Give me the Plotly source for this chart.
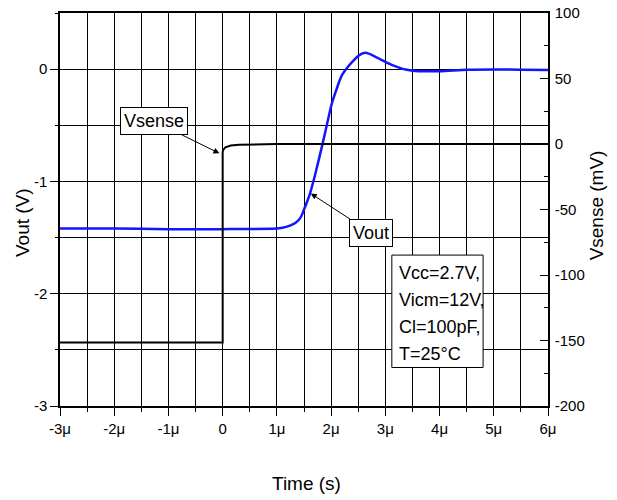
import plotly.graph_objects as go

# time axis in microseconds
t_vout = [-3.0, -2.0, -1.0, 0.0, 1.0, 1.1, 1.2, 1.3, 1.35, 1.4, 1.45, 1.5, 1.55,
          1.6, 1.7, 1.84, 1.92, 2.0, 2.05, 2.1, 2.15, 2.21, 2.3, 2.39, 2.52, 2.64,
          2.82, 3.0, 3.13, 3.37, 3.62, 4.0, 4.5, 5.0, 5.5, 6.0]
vout = [-1.42, -1.42, -1.425, -1.425, -1.42, -1.413, -1.40, -1.38, -1.365, -1.345,
        -1.31, -1.25, -1.19, -1.125, -0.95, -0.67, -0.5, -0.33, -0.25, -0.18,
        -0.11, -0.045, 0.015, 0.065, 0.125, 0.145, 0.11, 0.065, 0.036, -0.003,
        -0.018, -0.018, -0.005, -0.003, -0.005, -0.008]

t_vsense = [-3.0, -2.0, -1.0, 0.0, 0.0, 0.01, 0.05, 0.15, 0.3, 0.6, 1.0, 2.0, 3.0,
            4.0, 5.0, 6.0]
vsense = [-151.5, -151.5, -151.0, -151.5, -6.0, -4.5, -2.5, -1.2, -0.6, -0.3, 0.0,
          0.0, 0.0, 0.0, 0.0, 0.0]

x_ticks = [-3, -2, -1, 0, 1, 2, 3, 4, 5, 6]
x_labels = ["-3μ", "-2μ", "-1μ", "0", "1μ", "2μ", "3μ", "4μ", "5μ", "6μ"]
vout_ticks = [-3, -2, -1, 0]
vout_labels = ["-3", "-2", "-1", "0"]
vsense_ticks = [-200, -150, -100, -50, 0, 50, 100]
vsense_labels = ["-200", "-150", "-100", "-50", "0", "50", "100"]

conditions = ["Vcc=2.7V,", "Vicm=12V,", "Cl=100pF,", "T=25°C"]

FONT = "Liberation Sans, Arial, sans-serif"

fig = go.Figure()
fig.add_trace(go.Scatter(x=t_vout, y=vout, mode="lines", yaxis="y",
                         line=dict(color="#1414ff", width=2.5, shape="spline",
                                   smoothing=0.6)))
fig.add_trace(go.Scatter(x=t_vsense, y=vsense, mode="lines", yaxis="y2",
                         line=dict(color="black", width=2)))

fig.update_layout(
    width=617, height=500,
    margin=dict(l=60, r=69, t=13, b=94),
    plot_bgcolor="white", paper_bgcolor="white",
    showlegend=False,
    font=dict(family=FONT, size=15, color="black"),
    xaxis=dict(
        range=[-3, 6], tickmode="array", tickvals=x_ticks, ticktext=x_labels,
        ticks="outside", ticklen=8, tickcolor="black", automargin=False,
        showline=True, linecolor="black", linewidth=1.5, mirror=True,
        showgrid=True, gridcolor="black", gridwidth=1, zeroline=False,
        minor=dict(tick0=0, dtick=0.5, ticks="outside", ticklen=4,
                   tickcolor="black", showgrid=True, gridcolor="black",
                   gridwidth=1),
    ),
    yaxis=dict(
        range=[-3, 0.5], tickmode="array", tickvals=vout_ticks,
        ticktext=vout_labels, automargin=False,
        ticks="outside", ticklen=8, tickcolor="black",
        showline=True, linecolor="black", linewidth=1.5, mirror=True,
        showgrid=True, gridcolor="black", gridwidth=1, zeroline=False,
        minor=dict(tick0=0, dtick=0.5, ticks="outside", ticklen=3,
                   tickcolor="black", showgrid=True, gridcolor="black",
                   gridwidth=1),
    ),
    yaxis2=dict(
        overlaying="y", side="right", range=[-200, 100], tickmode="array",
        tickvals=vsense_ticks, ticktext=vsense_labels, automargin=False,
        ticks="inside", ticklen=8, tickcolor="black", ticklabelstandoff=2,
        showline=True, linecolor="black", linewidth=1.5,
        showgrid=False, zeroline=False,
        minor=dict(tick0=0, dtick=25, ticks="inside", ticklen=4,
                   tickcolor="black"),
    ),
)

# axis titles
fig.add_annotation(x=0.506, y=-0.197, xref="paper", yref="paper", text="Time (s)",
                   showarrow=False, xanchor="center", yanchor="middle",
                   font=dict(size=19))
fig.add_annotation(x=-0.078, y=0.468, xref="paper", yref="paper", text="Vout (V)",
                   showarrow=False, textangle=-90, xanchor="center",
                   yanchor="middle", font=dict(size=19))
fig.add_annotation(x=1.100, y=0.51, xref="paper", yref="paper", text="Vsense (mV)",
                   showarrow=False, textangle=-90, xanchor="center",
                   yanchor="middle", font=dict(size=19))

fig.add_annotation(x=-0.06, y=-0.75, xref="x", yref="y", text="Vsense",
                   ax=-65, ay=-32, showarrow=True, arrowhead=2, arrowsize=1.2,
                   arrowwidth=1, arrowcolor="black", bgcolor="white",
                   bordercolor="black", borderwidth=1, borderpad=3,
                   font=dict(size=18))
fig.add_annotation(x=1.625, y=-1.108, xref="x", yref="y", text="Vout",
                   ax=60, ay=39, showarrow=True, arrowhead=2, arrowsize=1.2,
                   arrowwidth=1, arrowcolor="black", bgcolor="white",
                   bordercolor="black", borderwidth=1, borderpad=3,
                   font=dict(size=18))

fig.add_shape(type="rect", xref="paper", yref="paper",
              x0=0.68, x1=0.867, y0=0.098, y1=0.384,
              line=dict(color="black", width=1), fillcolor="white", layer="above")
for i, line in enumerate(conditions):
    fig.add_annotation(x=0.69, y=0.3395 - i * 0.0687, xref="paper", yref="paper",
                       text=line, showarrow=False, xanchor="left", yanchor="middle",
                       font=dict(size=18))

# page has a default 8px body margin; drop it so the figure sits at 0,0
fig.write_html("out.html", config={"displayModeBar": False},
               post_script="document.body.style.margin='0';")
